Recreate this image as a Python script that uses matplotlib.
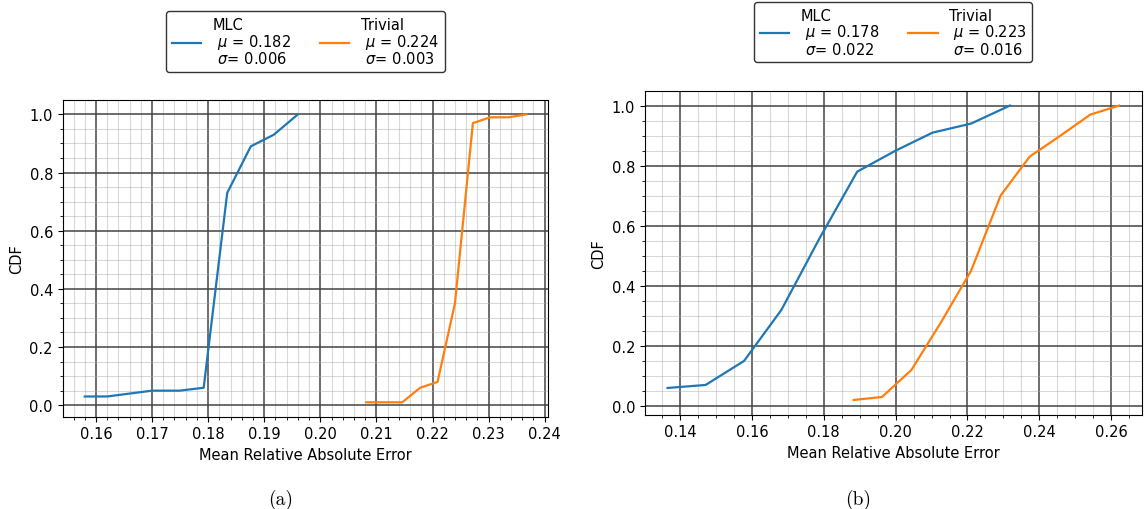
import matplotlib.pyplot as plt
from matplotlib.ticker import AutoMinorLocator

plt.rcParams['font.size'] = 10.5

# panel (a)
a_mlc_x = [0.158, 0.162, 0.166, 0.170, 0.1749, 0.1792, 0.1834, 0.1876, 0.1917, 0.196]
a_mlc_y = [0.03, 0.03, 0.04, 0.05, 0.05, 0.06, 0.73, 0.89, 0.93, 1.0]
a_triv_x = [0.2082, 0.2114, 0.2146, 0.2178, 0.2209, 0.2240, 0.2272, 0.2303, 0.2336, 0.2367]
a_triv_y = [0.01, 0.01, 0.01, 0.06, 0.08, 0.35, 0.97, 0.99, 0.99, 1.0]
a_labels = ['MLC\n $\\mu$ = 0.182\n $\\sigma$= 0.006',
            'Trivial\n $\\mu$ = 0.224\n $\\sigma$= 0.003']

# panel (b)
b_mlc_x = [0.1365, 0.1471, 0.1578, 0.1682, 0.1789, 0.1893, 0.2000, 0.2103, 0.2210, 0.2318]
b_mlc_y = [0.06, 0.07, 0.15, 0.32, 0.56, 0.78, 0.85, 0.91, 0.94, 1.0]
b_triv_x = [0.1883, 0.1962, 0.2044, 0.2127, 0.2210, 0.2292, 0.2373, 0.2459, 0.2542, 0.2622]
b_triv_y = [0.02, 0.03, 0.12, 0.28, 0.45, 0.70, 0.83, 0.90, 0.97, 1.0]
b_labels = ['MLC\n $\\mu$ = 0.178\n $\\sigma$= 0.022',
            'Trivial\n $\\mu$ = 0.223\n $\\sigma$= 0.016']


def cdf_panel(ax, x1, y1, x2, y2, labels, leg_y):
    ax.plot(x1, y1, color='#1f77b4', linewidth=1.6, label=labels[0])
    ax.plot(x2, y2, color='#ff7f0e', linewidth=1.6, label=labels[1])
    ax.xaxis.set_minor_locator(AutoMinorLocator())
    ax.yaxis.set_minor_locator(AutoMinorLocator())
    ax.grid(which='major', color='#444444', linewidth=1.1)
    ax.grid(which='minor', color='#aaaaaa', linewidth=0.8, alpha=0.45)
    ax.set_axisbelow(True)
    ax.set_xlabel('Mean Relative Absolute Error')
    ax.set_ylabel('CDF')
    leg = ax.legend(loc='lower center', bbox_to_anchor=(0.5, leg_y), ncol=2,
                    edgecolor='k', fancybox=True, borderaxespad=0)
    for t in leg.get_texts():
        t.set_linespacing(0.95)


fig = plt.figure(figsize=(11.46, 5.10), dpi=100)
ax1 = fig.add_axes([0.0547, 0.181, 0.4237, 0.621])
ax2 = fig.add_axes([0.5628, 0.1849, 0.4334, 0.635])

cdf_panel(ax1, a_mlc_x, a_mlc_y, a_triv_x, a_triv_y, a_labels, 1.089)
cdf_panel(ax2, b_mlc_x, b_mlc_y, b_triv_x, b_triv_y, b_labels, 1.088)

fig.text(281 / 1146, 1 - 500 / 510, '(a)', family='cmr10', fontsize=14,
         ha='center', va='center')
fig.text(858 / 1146, 1 - 500 / 510, '(b)', family='cmr10', fontsize=14,
         ha='center', va='center')

fig.savefig('out.png', dpi=100)
